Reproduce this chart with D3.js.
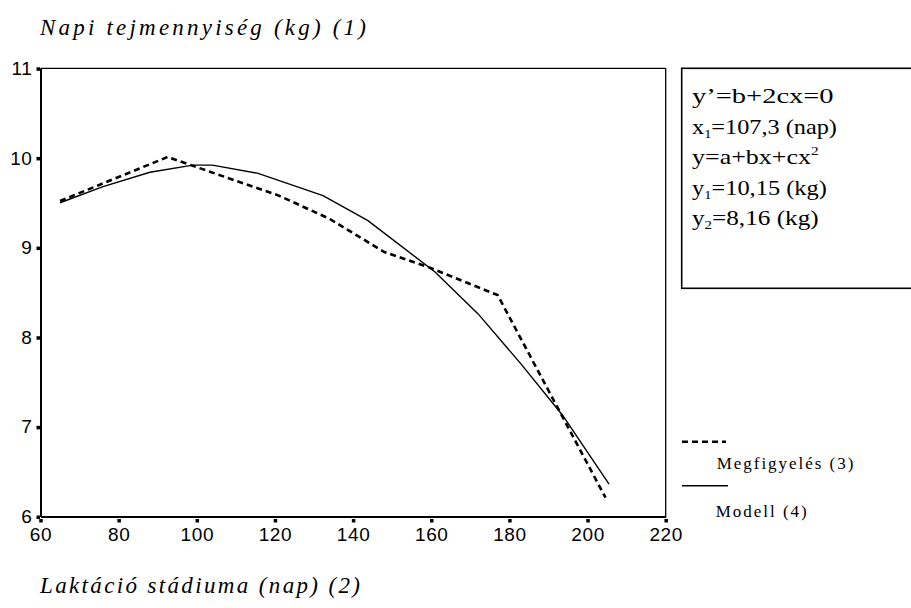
<!DOCTYPE html>
<html><head><meta charset="utf-8">
<script src="https://cdn.jsdelivr.net/npm/d3@7"></script>
<style>body{margin:0;background:#fff}svg{display:block}</style>
</head><body>
<svg id="c" width="911" height="608"></svg>
<script>
const obsX = [65, 92.5, 121, 134, 148, 160, 177, 204.6];
const obsY = [9.52, 10.01, 9.58, 9.32, 8.95, 8.77, 8.47, 6.21];
const modX = [65, 76, 88, 99, 104, 115.5, 132.3, 143.8, 160.9, 172, 183, 193.6, 205.5];
const modY = [9.50, 9.68, 9.84, 9.92, 9.92, 9.83, 9.58, 9.30, 8.73, 8.26, 7.70, 7.13, 6.36];
const xTicks = [60, 80, 100, 120, 140, 160, 180, 200, 220];
const yTicks = [6, 7, 8, 9, 10, 11];
const yTitle = "Napi tejmennyiség (kg) (1)";
const xTitle = "Laktáció stádiuma (nap) (2)";
const legendLabels = ["Megfigyelés (3)", "Modell (4)"];

const svg = d3.select("#c");
const x = d3.scaleLinear().domain([60, 220]).range([40.5, 665.7]);
const y = d3.scaleLinear().domain([6, 11]).range([516.5, 68.3]);

// frame
svg.append("line").attr("x1", x(60)).attr("x2", x(220)).attr("y1", y(11)).attr("y2", y(11)).attr("stroke", "#000").attr("stroke-width", 1.3);
svg.append("line").attr("x1", x(220)).attr("x2", x(220)).attr("y1", y(11)).attr("y2", y(6)).attr("stroke", "#000").attr("stroke-width", 1.3);

// axes
const yAxis = svg.append("g").attr("transform", `translate(${x(60)},0)`)
  .call(d3.axisLeft(y).tickValues(yTicks).tickSize(0).tickPadding(8).tickFormat(d3.format("d")));
const xAxis = svg.append("g").attr("transform", `translate(0,${y(6)})`)
  .call(d3.axisBottom(x).tickValues(xTicks).tickSize(0).tickPadding(11).tickFormat(d3.format("d")));
[yAxis, xAxis].forEach(g => {
  g.select(".domain").attr("stroke", "#000").attr("stroke-width", 2);
  g.selectAll("text").attr("font-family", "Liberation Sans, Arial, sans-serif").attr("font-size", 19).attr("letter-spacing", 0.6).attr("fill", "#000");
});
yAxis.selectAll(".tick").append("rect").attr("x", -4).attr("y", -1.5).attr("width", 3.5).attr("height", 3.5).attr("fill", "#000");
xAxis.selectAll(".tick").append("rect").attr("x", -1.75).attr("y", 2.5).attr("width", 3.5).attr("height", 3.5).attr("fill", "#000");

// lines
const line = d3.line().x(d => x(d[0])).y(d => y(d[1]));
svg.append("path").datum(modX.map((v, i) => [v, modY[i]])).attr("d", line)
  .attr("fill", "none").attr("stroke", "#000").attr("stroke-width", 1.4);
svg.append("path").datum(obsX.map((v, i) => [v, obsY[i]])).attr("d", line)
  .attr("fill", "none").attr("stroke", "#000").attr("stroke-width", 2.6).attr("stroke-dasharray", "6,4");

// helper to fit text with letter spacing
function fitSpacing(t, target) {
  const n = t.text().length;
  const L = t.node().getComputedTextLength();
  t.attr("letter-spacing", (target - L) / (n - 1));
}
const t1 = svg.append("text").attr("x", 40).attr("y", 35).attr("font-family", "Liberation Serif, Times New Roman, serif")
  .attr("font-style", "italic").attr("font-size", 23).text(yTitle);
fitSpacing(t1, 326);
const t2 = svg.append("text").attr("x", 40).attr("y", 593).attr("font-family", "Liberation Serif, Times New Roman, serif")
  .attr("font-style", "italic").attr("font-size", 23).text(xTitle);
fitSpacing(t2, 320);

// info box
svg.append("rect").attr("x", 681.7).attr("y", 68.3).attr("width", 240).attr("height", 220)
  .attr("fill", "none").attr("stroke", "#000").attr("stroke-width", 1.6);
const boxLines = [
  [["y’=b+2cx=0", null]],
  [["x", null], ["1", "sub"], ["=107,3 (nap)", null]],
  [["y=a+bx+cx", null], ["2", "sup"]],
  [["y", null], ["1", "sub"], ["=10,15 (kg)", null]],
  [["y", null], ["2", "sub"], ["=8,16 (kg)", null]]
];
const boxWidths = [141.7, 145, 126.7, 135, 126.7];
boxLines.forEach((parts, i) => {
  const by = 103 + i * 30.6;
  const g = svg.append("g");
  const t = g.append("text").attr("x", 0).attr("y", 0)
    .attr("font-family", "Liberation Serif, Times New Roman, serif").attr("font-size", 22).attr("fill", "#000");
  parts.forEach(p => {
    const ts = t.append("tspan").text(p[0]);
    if (p[1] === "sub") ts.attr("font-size", 13).attr("dy", 4);
    else if (p[1] === "sup") ts.attr("font-size", 13).attr("dy", -9);
  });
  t.selectAll("tspan").each(function(d, j) {
    if (j > 0 && parts[j - 1][1] === "sub") d3.select(this).attr("dy", -4);
  });
  const L = t.node().getComputedTextLength();
  g.attr("transform", `translate(692,${by}) scale(${boxWidths[i] / L},1)`);
});

// legend
svg.append("line").attr("x1", 682).attr("x2", 726).attr("y1", 441.7).attr("y2", 441.7)
  .attr("stroke", "#000").attr("stroke-width", 2.6).attr("stroke-dasharray", "6,4");
svg.append("line").attr("x1", 682).attr("x2", 728).attr("y1", 485.7).attr("y2", 485.7)
  .attr("stroke", "#000").attr("stroke-width", 1.4);
const lg1 = svg.append("text").attr("x", 716.7).attr("y", 469).attr("font-family", "Liberation Serif, Times New Roman, serif")
  .attr("font-size", 17).text(legendLabels[0]);
fitSpacing(lg1, 136.7);
const lg2 = svg.append("text").attr("x", 715.7).attr("y", 517).attr("font-family", "Liberation Serif, Times New Roman, serif")
  .attr("font-size", 17).text(legendLabels[1]);
fitSpacing(lg2, 91);
</script>
</body></html>
